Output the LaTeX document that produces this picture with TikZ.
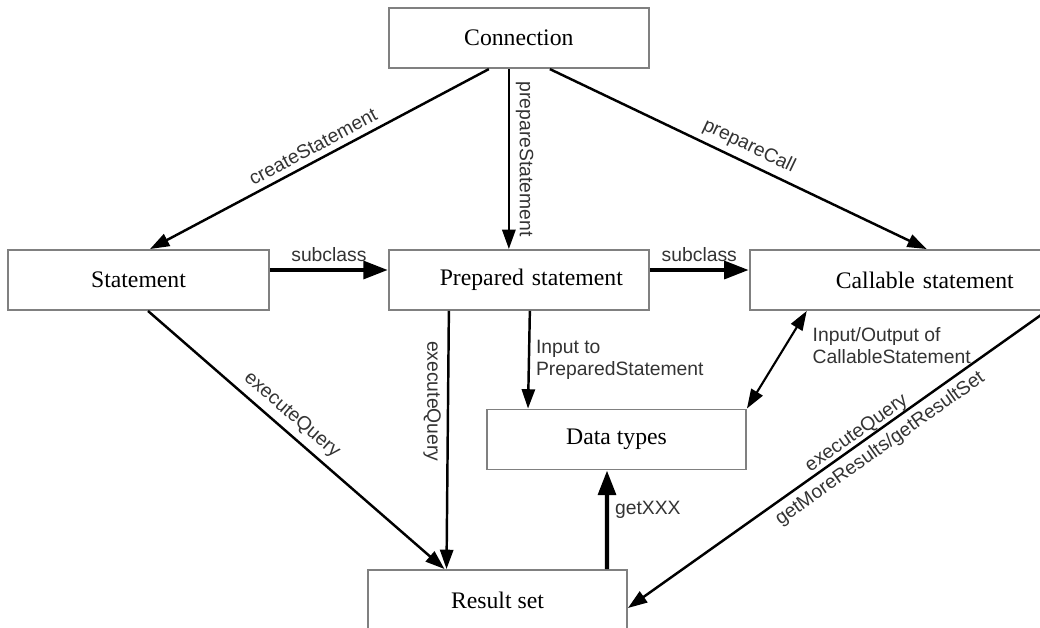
\documentclass[tikz,border=0pt]{standalone}
\usepackage{fontspec}
\setmainfont{Liberation Serif}
\setsansfont{Liberation Sans}
\usetikzlibrary{positioning, arrows.meta}
\definecolor{boxline}{HTML}{808080}
\definecolor{labeltext}{HTML}{333333}

\begin{document}
\begin{tikzpicture}[
  x=0.02cm, y=-0.02cm,
  node distance=2cm,
  box/.style={rectangle, draw=boxline, line width=1.1pt, fill=white, minimum width=5.2cm, minimum height=1.2cm, align=center, font=\fontsize{13.5}{16}\selectfont},
  arrow/.style={->, >={Triangle[length=11pt, width=7.5pt]}, line width=1.4pt},
  fatarrow/.style={->, >={Triangle[length=14pt, width=10pt]}, line width=2.5pt},
  lbl/.style={font=\sffamily\fontsize{11}{12.5}\selectfont, text=labeltext}
]
\useasboundingbox (0,0) rectangle (1040,628);

\node[box, minimum width=5.22cm] (stmt) at (138.5,280) {Statement};
\node[box, right=2.36cm of stmt, text width=4.16cm, inner xsep=0.52cm, align=right] (prep) {Prepared statement};
\node[box, above=3.6cm of prep] (conn) {Connection};
\node[box, right=1.98cm of prep, text width=4.64cm, inner xsep=0.64cm, align=right] (call) {Callable statement};
\node[box, minimum width=5.18cm] (types) at (616.5,439.5) {Data types};
\node[box, minimum width=5.18cm] (rset) at (497.5,600) {Result set};

% from the connection
\draw[arrow] ([xshift=-0.6cm]conn.south) -- ([xshift=0.23cm]stmt.north) node[lbl, midway, above, sloped] {createStatement};
\draw[arrow] ([xshift=-0.2cm]conn.south) -- ([xshift=-0.2cm]prep.north) node[lbl, midway, anchor=south, rotate=-90] {prepareStatement};
\draw[arrow] ([xshift=0.62cm]conn.south) -- ([xshift=0.58cm]call.north) node[lbl, pos=0.51, above, sloped] {prepareCall};

% subclasses
\draw[fatarrow] ([yshift=0.2cm]stmt.east) -- ([yshift=0.2cm]prep.west) node[lbl, midway, above] {subclass};
\draw[fatarrow] ([yshift=0.2cm]prep.east) -- ([yshift=0.2cm]call.west) node[lbl, midway, above] {subclass};

% queries and data
\draw[arrow] ([xshift=0.19cm]stmt.south) -- ([xshift=-1.06cm]rset.north) node[lbl, pos=0.45, above, sloped] {executeQuery};
\draw[arrow] ([xshift=-1.4cm]prep.south) -- ([xshift=-1.02cm]rset.north) node[lbl, pos=0.35, anchor=north, rotate=-90] {executeQuery};
\draw[arrow] ([xshift=0.22cm]prep.south) -- ([xshift=-1.77cm]types.north) node[lbl, midway, right, align=left] {Input to\\PreparedStatement};
\draw[arrow, <->, line width=1.2pt] ([xshift=-1.82cm]call.south) -- (types.north east) node[lbl, pos=0.35, right=0.4cm, align=left] {Input/Output of\\CallableStatement};
\draw[fatarrow] ([xshift=2.19cm]rset.north) -- ([xshift=-0.19cm]types.south) node[lbl, pos=0.6, right] {getXXX};
\draw[arrow] (call.south east) -- ([yshift=-0.16cm]rset.east)
  node[lbl, pos=0.44, above, sloped, inner sep=0pt] {executeQuery}
  node[lbl, pos=0.42, below, sloped] {getMoreResults/getResultSet};
\end{tikzpicture}
\end{document}
